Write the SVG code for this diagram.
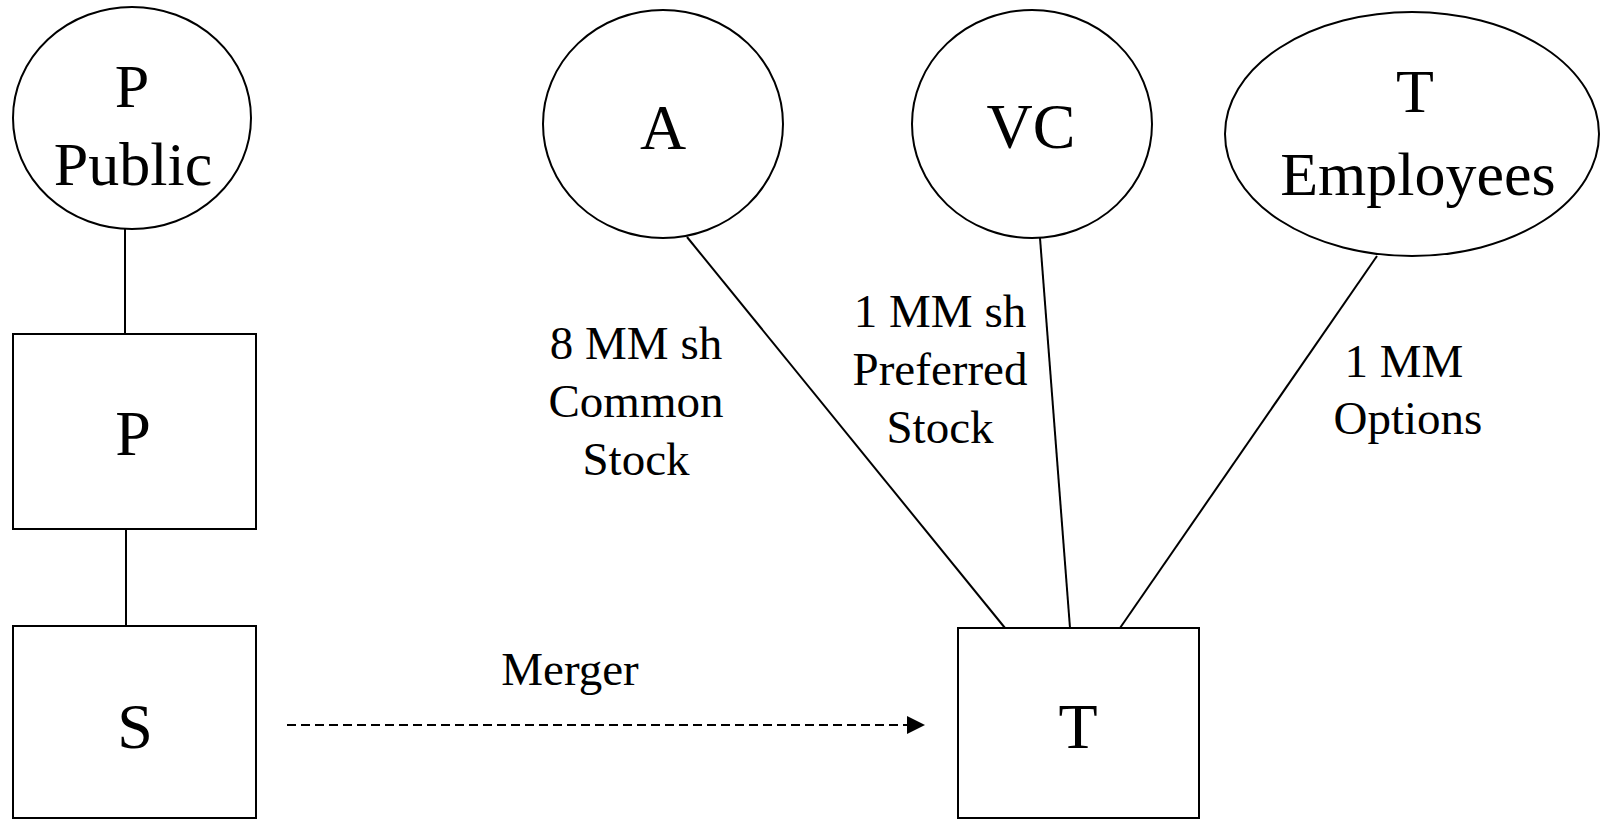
<svg xmlns="http://www.w3.org/2000/svg" width="1602" height="822" viewBox="0 0 1602 822">
<style>
.shape{fill:#fff;stroke:#000;stroke-width:2}
.line{fill:none;stroke:#000;stroke-width:2}
text{font-family:"Liberation Serif","Times New Roman",serif;fill:#000;text-anchor:middle}
.big{font-size:64px}
.mid{font-size:62px}
.lbl{font-size:47px}
</style>
<defs>
<marker id="arr" markerWidth="10" markerHeight="10" refX="9" refY="5" orient="auto" markerUnits="userSpaceOnUse" viewBox="0 0 10 10">
<path d="M0,0 L10,5 L0,10 Z" fill="#000"/>
</marker>
</defs>
<g id="connectors">
<line class="line" x1="125" y1="229" x2="125" y2="334"/>
<line class="line" x1="126" y1="529" x2="126" y2="626"/>
<line class="line" x1="687" y1="237" x2="1005" y2="628"/>
<line class="line" x1="1040" y1="238" x2="1070" y2="628"/>
<line class="line" x1="1377" y1="256" x2="1120" y2="628"/>
<line class="line" x1="287" y1="725" x2="907" y2="725" stroke-dasharray="9 5"/>
<path d="M907,716 L925,725 L907,734 Z" fill="#000"/>
<text class="lbl" x="570" y="685">Merger</text>
<text class="lbl" x="636" y="359">8 MM sh</text>
<text class="lbl" x="636" y="417">Common</text>
<text class="lbl" x="636" y="475">Stock</text>
<text class="lbl" x="940" y="327">1 MM sh</text>
<text class="lbl" x="940" y="385">Preferred</text>
<text class="lbl" x="940" y="443">Stock</text>
<text class="lbl" x="1404" y="377">1 MM</text>
<text class="lbl" x="1408" y="434">Options</text>
</g>
<g id="node-public">
<ellipse class="shape" cx="132" cy="118" rx="119" ry="111"/>
<text class="mid" x="132" y="107">P</text>
<text class="mid" x="133" y="185">Public</text>
</g>
<g id="node-a">
<ellipse class="shape" cx="663" cy="124" rx="120" ry="114"/>
<text class="big" x="663" y="149">A</text>
</g>
<g id="node-vc">
<ellipse class="shape" cx="1032" cy="124" rx="120" ry="114"/>
<text class="big" x="1031" y="148">VC</text>
</g>
<g id="node-temployees">
<ellipse class="shape" cx="1412" cy="134" rx="187" ry="122"/>
<text class="mid" x="1415" y="112">T</text>
<text class="mid" x="1418" y="195">Employees</text>
</g>
<g id="node-p">
<rect class="shape" x="13" y="334" width="243" height="195"/>
<text class="big" x="133" y="455">P</text>
</g>
<g id="node-s">
<rect class="shape" x="13" y="626" width="243" height="192"/>
<text class="big" x="135" y="748">S</text>
</g>
<g id="node-t">
<rect class="shape" x="958" y="628" width="241" height="190"/>
<text class="big" x="1078" y="748">T</text>
</g>
</svg>
